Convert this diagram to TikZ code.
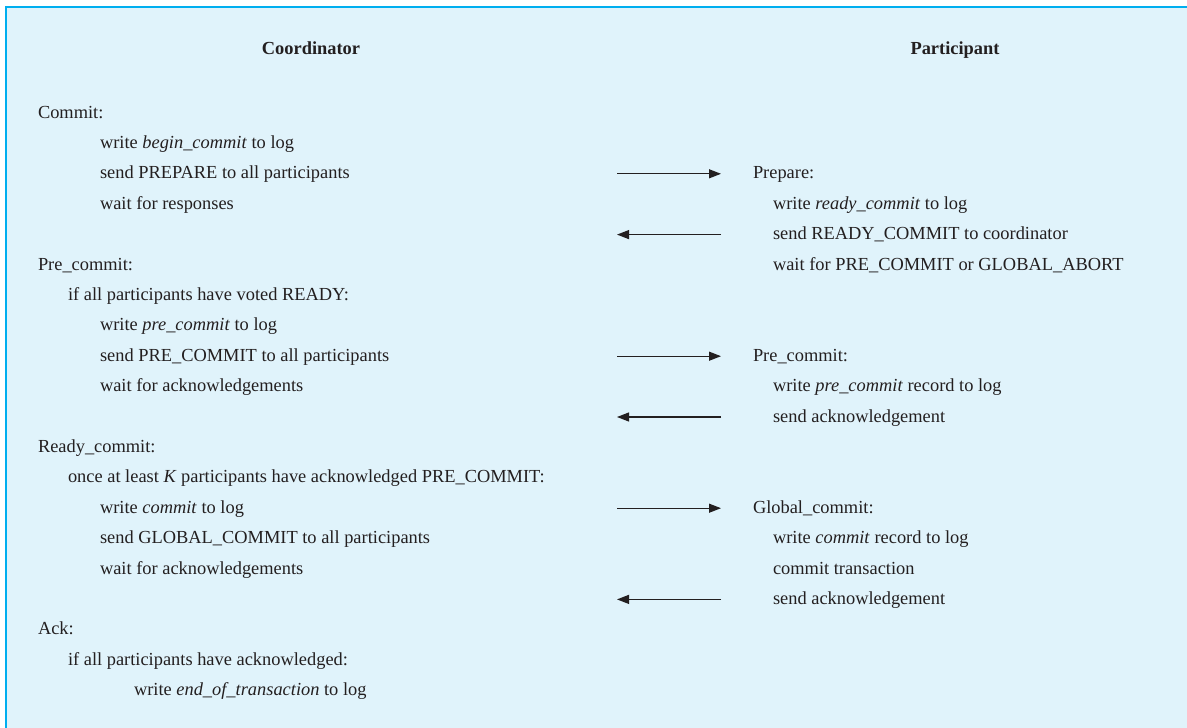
\documentclass[tikz,border=0pt]{standalone}
\usepackage{fontspec}
\setmainfont{Liberation Serif}
\usetikzlibrary{arrows.meta}
\definecolor{bgblue}{RGB}{224,243,251}
\definecolor{edgeblue}{RGB}{0,174,239}
\definecolor{ink}{RGB}{35,31,32}
\def\by#1{118+30.4*#1}
\tikzset{
  txt/.style={anchor=base west, inner sep=0pt, outer sep=0pt, text=ink, font=\fontsize{18.4}{22}\selectfont},
  head/.style={anchor=base, inner sep=0pt, outer sep=0pt, text=ink, font=\fontsize{18.4}{22}\selectfont\bfseries},
  msg/.style={draw=ink, line width=1.2pt, -{Triangle[length=12pt,width=9pt]}}
}
\begin{document}
\begin{tikzpicture}[x=1pt,y=-1pt]
\useasboundingbox (0,0) rectangle (1187,728);
\fill[bgblue] (6.3,6.7) rectangle (1187,728);
\draw[edgeblue, line width=2.3pt] (6.3,728) -- (6.3,6.7) -- (1187,6.7);
% headers
\node[head] (hc) at (311,54) {Coordinator};
\node[head] (hp) at (955,54) {Participant};
% coordinator
\node[txt] (c0)  at (38,\by{0})  {Commit:};
\node[txt] (c1)  at (100,\by{1}) {write \textit{begin\_commit} to log};
\node[txt] (c2)  at (100,\by{2}) {send PREPARE to all participants};
\node[txt] (c3)  at (100,\by{3}) {wait for responses};
\node[txt] (c5)  at (38,\by{5})  {Pre\_commit:};
\node[txt] (c6)  at (68,\by{6})  {if all participants have voted READY:};
\node[txt] (c7)  at (100,\by{7}) {write \textit{pre\_commit} to log};
\node[txt] (c8)  at (100,\by{8}) {send PRE\_COMMIT to all participants};
\node[txt] (c9)  at (100,\by{9}) {wait for acknowledgements};
\node[txt] (c11) at (38,\by{11}) {Ready\_commit:};
\node[txt] (c12) at (68,\by{12}) {once at least \textit{K} participants have acknowledged PRE\_COMMIT:};
\node[txt] (c13) at (100,\by{13}) {write \textit{commit} to log};
\node[txt] (c14) at (100,\by{14}) {send GLOBAL\_COMMIT to all participants};
\node[txt] (c15) at (100,\by{15}) {wait for acknowledgements};
\node[txt] (c17) at (38,\by{17}) {Ack:};
\node[txt] (c18) at (68,\by{18}) {if all participants have acknowledged:};
\node[txt] (c19) at (134,\by{19}) {write \textit{end\_of\_transaction} to log};
% participant
\node[txt] (p2)  at (753,\by{2})  {Prepare:};
\node[txt] (p3)  at (773,\by{3})  {write \textit{ready\_commit} to log};
\node[txt] (p4)  at (773,\by{4})  {send READY\_COMMIT to coordinator};
\node[txt] (p5)  at (773,\by{5})  {wait for PRE\_COMMIT or GLOBAL\_ABORT};
\node[txt] (p8)  at (753,\by{8})  {Pre\_commit:};
\node[txt] (p9)  at (773,\by{9})  {write \textit{pre\_commit} record to log};
\node[txt] (p10) at (773,\by{10}) {send acknowledgement};
\node[txt] (p13) at (753,\by{13}) {Global\_commit:};
\node[txt] (p14) at (773,\by{14}) {write \textit{commit} record to log};
\node[txt] (p15) at (773,\by{15}) {commit transaction};
\node[txt] (p16) at (773,\by{16}) {send acknowledgement};
% arrow endpoints
\coordinate (a2l)  at (617,\by{2}-5);  \coordinate (a2r)  at (721,\by{2}-5);
\coordinate (a4l)  at (617,\by{4}-5);  \coordinate (a4r)  at (721,\by{4}-5);
\coordinate (a8l)  at (617,\by{8}-5);  \coordinate (a8r)  at (721,\by{8}-5);
\coordinate (a10l) at (617,\by{10}-5); \coordinate (a10r) at (721,\by{10}-5);
\coordinate (a13l) at (617,\by{13}-5); \coordinate (a13r) at (721,\by{13}-5);
\coordinate (a16l) at (617,\by{16}-5); \coordinate (a16r) at (721,\by{16}-5);
\draw[msg] (a2l) -- (a2r);
\draw[msg] (a4r) -- (a4l);
\draw[msg] (a8l) -- (a8r);
\draw[msg] (a10r) -- (a10l);
\draw[msg] (a13l) -- (a13r);
\draw[msg] (a16r) -- (a16l);
\end{tikzpicture}
\end{document}
